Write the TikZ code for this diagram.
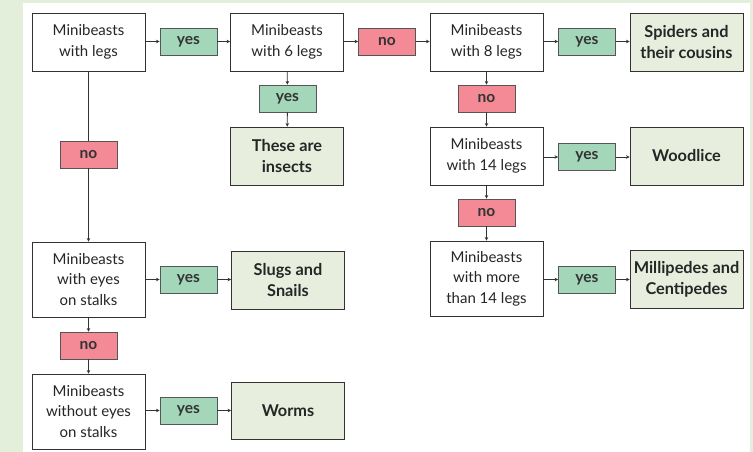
\documentclass[tikz,border=0pt]{standalone}
\usepackage{fontspec}
\setmainfont{Lato}
\usetikzlibrary{arrows.meta}
\definecolor{bggreen}{RGB}{227,239,218}
\definecolor{yesfill}{RGB}{164,215,185}
\definecolor{nofill}{RGB}{243,138,150}
\definecolor{resfill}{RGB}{231,238,222}
\definecolor{boxline}{RGB}{50,50,50}
\definecolor{tagline}{RGB}{85,85,85}
\tikzset{
  qbox/.style={draw=boxline, line width=0.9, fill=white, minimum width=113, minimum height=58, inner sep=0, align=center, font=\fontsize{15}{20.5}\selectfont, text=black!85},
  qtall/.style={qbox, minimum height=75},
  rbox/.style={draw=boxline, line width=0.9, fill=resfill, minimum width=113, minimum height=58, inner sep=0, align=center, font=\fontsize{16.3}{20.7}\selectfont\bfseries, text=black!85},
  yestag/.style={draw=tagline, line width=0.9, fill=yesfill, minimum width=57, minimum height=27, inner sep=0, font=\fontsize{15.5}{17}\selectfont\bfseries, text=black!80},
  notag/.style={yestag, fill=nofill},
  conn/.style={draw=black!80, line width=0.8},
  arr/.style={conn, -{Stealth[length=3.5,width=3.5]}}
}
\begin{document}
\begin{tikzpicture}[x=1pt,y=-1pt]
\useasboundingbox (0,0) rectangle (753,452);
\fill[bggreen] (0,0) rectangle (753,452);
\fill[white] (23,3.5) rectangle (750,452);

% row 1
\node[qbox] (legs) at (88.5,42) {Minibeasts\\with legs};
\node[yestag] (yes1) at (188.5,41.5) {yes};
\node[qbox] (six) at (287,42) {Minibeasts\\with 6 legs};
\node[notag] (no1) at (387,41.5) {no};
\node[qbox] (eight) at (486.5,42) {Minibeasts\\with 8 legs};
\node[yestag] (yes3) at (587,41.5) {yes};
\node[rbox] (spiders) at (686.5,42) {Spiders and\\their cousins};

\node[yestag] (yes2) at (287.5,98.5) {yes};
\node[rbox] (insects) at (287,156) {These are\\insects};

\node[notag] (no2) at (486.5,98.5) {no};
\node[qbox] (fourteen) at (486.5,156) {Minibeasts\\with 14 legs};
\node[yestag] (yes4) at (587,157) {yes};
\node[rbox] (woodlice) at (686.5,156) {Woodlice};
\node[notag] (no3) at (486.5,212.5) {no};
\node[qtall] (more) at (486.5,278.5) {Minibeasts\\with more\\than 14 legs};
\node[yestag] (yes5) at (587,279.5) {yes};
\node[rbox] (milli) at (686.5,279) {Millipedes and\\Centipedes};

\node[notag] (nol) at (88.5,154.5) {no};
\node[qtall] (eyes) at (88.5,279.5) {Minibeasts\\with eyes\\on stalks};
\node[yestag] (yes6) at (188.5,279.5) {yes};
\node[rbox] (slugs) at (288,280) {Slugs and\\Snails};
\node[notag] (no4) at (88.5,345.5) {no};
\node[qtall] (without) at (88.5,411.5) {Minibeasts\\without eyes\\on stalks};
\node[yestag] (yes7) at (188.5,410.5) {yes};
\node[rbox, minimum height=57] (worms) at (288,410.5) {Worms};

% connectors
\draw[arr] (legs.east |- yes1) -- (yes1);
\draw[arr] (yes1) -- (six.west |- yes1);
\draw[arr] (six.east |- no1) -- (no1);
\draw[arr] (no1) -- (eight.west |- no1);
\draw[arr] (eight.east |- yes3) -- (yes3);
\draw[arr] (yes3) -- (spiders.west |- yes3);
\draw[arr] (six) -- (yes2);
\draw[arr] (yes2) -- (insects);
\draw[arr] (eight) -- (no2);
\draw[arr] (no2) -- (fourteen);
\draw[arr] (fourteen.east |- yes4) -- (yes4);
\draw[arr] (yes4) -- (woodlice.west |- yes4);
\draw[arr] (fourteen) -- (no3);
\draw[arr] (no3) -- (more);
\draw[arr] (more.east |- yes5) -- (yes5);
\draw[arr] (yes5) -- (milli.west |- yes5);
\draw[conn] (legs) -- (nol);
\draw[arr] (nol) -- (eyes);
\draw[arr] (eyes.east |- yes6) -- (yes6);
\draw[arr] (yes6) -- (slugs.west |- yes6);
\draw[arr] (eyes) -- (no4);
\draw[arr] (no4) -- (without);
\draw[arr] (without.east |- yes7) -- (yes7);
\draw[arr] (yes7) -- (worms.west |- yes7);
\end{tikzpicture}
\end{document}
